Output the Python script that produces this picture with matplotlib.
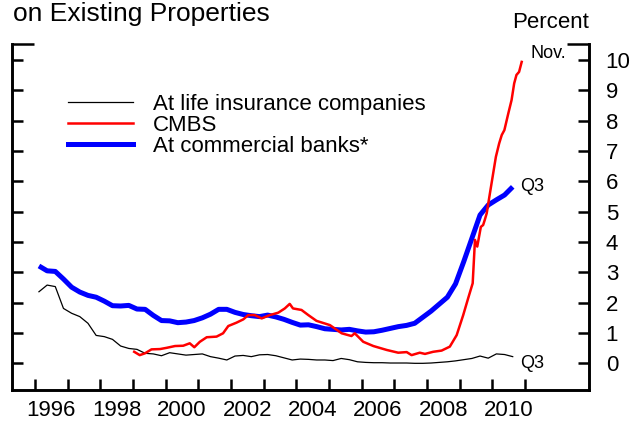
import matplotlib
matplotlib.use("Agg")
import matplotlib.pyplot as plt
from matplotlib.ticker import FixedLocator, NullFormatter, FixedFormatter
from matplotlib.lines import Line2D

plt.rcParams['font.family'] = ['Liberation Sans', 'DejaVu Sans']

# Quarterly delinquency rates (percent), plotted at mid-quarter
quarters_start = 1996
life_ins = [2.36, 2.58, 2.53, 1.81,
            1.65, 1.54, 1.32, 0.92,
            0.88, 0.79, 0.57, 0.49,
            0.46, 0.33, 0.31, 0.25,
            0.35, 0.31, 0.27, 0.29,
            0.31, 0.22, 0.17, 0.11,
            0.24, 0.26, 0.22, 0.28,
            0.29, 0.25, 0.18, 0.11,
            0.14, 0.13, 0.11, 0.11,
            0.09, 0.16, 0.12, 0.05,
            0.03, 0.02, 0.02, 0.01,
            0.01, 0.01, 0.00, 0.00,
            0.01, 0.03, 0.05, 0.08,
            0.12, 0.16, 0.24, 0.17,
            0.31, 0.29, 0.22]
comm_banks = [3.21, 3.05, 3.03, 2.78,
              2.51, 2.35, 2.24, 2.18,
              2.05, 1.90, 1.89, 1.91,
              1.79, 1.78, 1.58, 1.41,
              1.40, 1.34, 1.36, 1.41,
              1.50, 1.62, 1.78, 1.78,
              1.68, 1.61, 1.57, 1.54,
              1.59, 1.53, 1.45, 1.35,
              1.26, 1.27, 1.21, 1.14,
              1.12, 1.10, 1.12, 1.07,
              1.03, 1.04, 1.09, 1.15,
              1.21, 1.25, 1.32, 1.52,
              1.72, 1.95, 2.18, 2.62,
              3.35, 4.12, 4.89, 5.22,
              5.39, 5.55, 5.82]

# CMBS delinquency rate (percent), monthly observations
cmbs_dates = [1999.04, 1999.21, 1999.37, 1999.57, 1999.83, 2000.03, 2000.29,
              2000.54, 2000.74, 2000.88, 2001.05, 2001.26, 2001.56, 2001.76,
              2001.92, 2002.17, 2002.38, 2002.53, 2002.73, 2002.94, 2003.19,
              2003.45, 2003.65, 2003.80, 2003.90, 2004.16, 2004.37, 2004.62,
              2005.03, 2005.39, 2005.69, 2005.79, 2006.05, 2006.36, 2006.77,
              2007.12, 2007.38, 2007.53, 2007.78, 2007.94, 2008.19, 2008.45,
              2008.70, 2008.91, 2009.11, 2009.26, 2009.40, 2009.47, 2009.54,
              2009.65, 2009.72, 2009.77, 2009.83, 2009.91, 2010.01, 2010.11,
              2010.21, 2010.29, 2010.37, 2010.49, 2010.59, 2010.67, 2010.74,
              2010.82, 2010.90]
cmbs = [0.38, 0.27, 0.33, 0.46, 0.47, 0.51, 0.57,
        0.58, 0.66, 0.53, 0.71, 0.86, 0.88, 0.99,
        1.23, 1.34, 1.45, 1.59, 1.59, 1.48, 1.59,
        1.67, 1.81, 1.96, 1.81, 1.76, 1.59, 1.40,
        1.26, 0.99, 0.90, 0.99, 0.71, 0.57, 0.44,
        0.35, 0.37, 0.27, 0.35, 0.31, 0.38, 0.42,
        0.55, 0.93, 1.59, 2.14, 2.64, 4.07, 3.85,
        4.50, 4.56, 4.73, 4.95, 5.49, 6.15, 6.81,
        7.25, 7.53, 7.69, 8.24, 8.68, 9.23, 9.51,
        9.61, 9.94]

year_ticks = list(range(1996, 2012))
year_labels = ['1996', '1998', '2000', '2002', '2004', '2006', '2008', '2010']
y_ticks = list(range(0, 11))
y_top, y_bottom = 10.53, -0.88

q_dates = [quarters_start + (i + 0.5) / 4 for i in range(len(life_ins))]

fig = plt.figure(figsize=(6.41, 4.23), dpi=100)
ax = fig.add_axes([12 / 641, 1 - 390 / 423, 577 / 641, 346 / 423])

ax.plot(q_dates, life_ins, color='black', lw=0.9, zorder=2)
ax.plot(q_dates, comm_banks, color='#0000ff', lw=3.6, zorder=3,
        solid_capstyle='butt')
ax.plot(cmbs_dates, cmbs, color='#ff0000', lw=1.8, zorder=4)

ax.set_xlim(1995.3, 2012.96)
ax.set_ylim(y_bottom, y_top)

# frame: left, right, bottom spines; short top pieces drawn as minor ticks
ax.spines['top'].set_visible(False)
for s in ('left', 'right', 'bottom'):
    ax.spines[s].set_linewidth(2.1)

ax.xaxis.set_major_locator(FixedLocator(year_ticks))
ax.xaxis.set_major_formatter(NullFormatter())
ax.xaxis.set_minor_locator(FixedLocator([int(y) + 0.5 for y in year_labels]))
ax.xaxis.set_minor_formatter(FixedFormatter(year_labels))
ax.tick_params(axis='x', which='major', direction='in', length=8, width=1.8)
ax.tick_params(axis='x', which='minor', length=0, pad=7, labelsize=16)

ax.yaxis.set_major_locator(FixedLocator(y_ticks))
ax.yaxis.set_minor_locator(FixedLocator([y_top]))
ax.yaxis.set_minor_formatter(NullFormatter())
ax.tick_params(axis='y', which='both', direction='in', left=True, right=True,
               labelleft=False, labelright=True, width=1.8)
ax.tick_params(axis='y', which='major', length=8, pad=12, labelsize=16)
ax.tick_params(axis='y', which='minor', length=16)

# end-point labels
ax.annotate('Nov.', xy=(cmbs_dates[-1], cmbs[-1]), xytext=(6.5, 6.3),
            textcoords='offset points', ha='left', va='center', fontsize=13)
ax.annotate('Q3', xy=(q_dates[-1], comm_banks[-1]), xytext=(5, 0),
            textcoords='offset points', ha='left', va='center', fontsize=13)
ax.annotate('Q3', xy=(q_dates[-1], life_ins[-1]), xytext=(5, -5),
            textcoords='offset points', ha='left', va='center', fontsize=13)

ax.annotate('Percent', xy=(1, 1), xycoords='axes fraction', xytext=(0, 11.5),
            textcoords='offset points', ha='right', va='baseline', fontsize=16)

fig.text(13 / 641, 1 - 21 / 423, 'on Existing Properties', fontsize=19,
         ha='left', va='baseline')

handles = [Line2D([], [], color='black', lw=0.9),
           Line2D([], [], color='#ff0000', lw=1.8),
           Line2D([], [], color='#0000ff', lw=3.6)]
labels = ['At life insurance companies', 'CMBS', 'At commercial banks*']
ax.legend(handles, labels, loc='upper left', bbox_to_anchor=(0.097, 0.855),
          frameon=False, fontsize=16, handlelength=2.93, handletextpad=0.9,
          borderpad=0, borderaxespad=0, labelspacing=0.0)

fig.savefig('out.png', dpi=100)
